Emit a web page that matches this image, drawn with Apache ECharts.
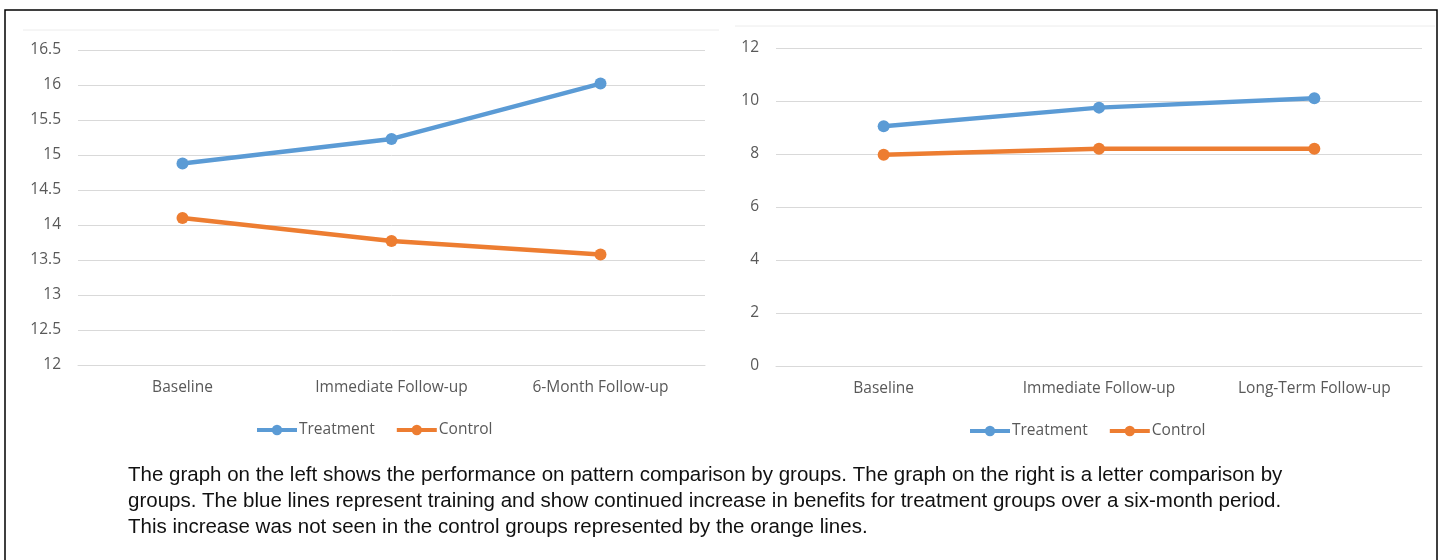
<!DOCTYPE html>
<html>
<head>
<meta charset="utf-8">
<title>Pattern and letter comparison by groups</title>
<script src="https://cdn.jsdelivr.net/npm/echarts@6/dist/echarts.min.js"></script>
<style>
  html, body { margin: 0; padding: 0; background: #fff; }
  #chart { width: 1443px; height: 560px; }
</style>
</head>
<body>
<div id="chart"></div>
<script>
// left chart: pattern comparison
var leftCategories = ['Baseline', 'Immediate Follow-up', '6-Month Follow-up'];
var leftTreatment = [14.88, 15.23, 16.02];
var leftControl = [14.1, 13.77, 13.58];

// right chart: letter comparison
var rightCategories = ['Baseline', 'Immediate Follow-up', 'Long-Term Follow-up'];
var rightTreatment = [9.05, 9.75, 10.1];
var rightControl = [7.97, 8.2, 8.2];

var captionLines = [
  'The graph on the left shows the performance on pattern comparison by groups. The graph on the right is a letter comparison by',
  'groups. The blue lines represent training and show continued increase in benefits for treatment groups over a six-month period.',
  'This increase was not seen in the control groups represented by the orange lines.'
];

var blue = '#5B9BD5';
var orange = '#ED7D31';
var labelFont = { color: '#595959', fontSize: 15.5, fontFamily: 'Open Sans' };

function xAxisFor(idx, cats) {
  return {
    type: 'category',
    gridIndex: idx,
    data: cats,
    boundaryGap: true,
    axisLine: { show: true, lineStyle: { color: '#d9d9d9', width: 1 } },
    axisTick: { show: false },
    axisLabel: Object.assign({ margin: 15 }, labelFont)
  };
}

function yAxisFor(idx, min, max, interval, margin) {
  return {
    type: 'value',
    gridIndex: idx,
    min: min,
    max: max,
    interval: interval,
    axisLine: { show: false },
    axisTick: { show: false },
    splitLine: { lineStyle: { color: '#d9d9d9', width: 1 } },
    axisLabel: Object.assign({ margin: margin }, labelFont)
  };
}

function lineSeries(name, color, xi, data) {
  return {
    name: name,
    type: 'line',
    xAxisIndex: xi,
    yAxisIndex: xi,
    data: data,
    symbol: 'circle',
    symbolSize: 12,
    lineStyle: { color: color, width: 4.5 },
    itemStyle: { color: color },
    animation: false
  };
}

function legendAt(left, top) {
  return {
    left: left,
    top: top,
    data: ['Treatment', 'Control'],
    itemWidth: 40,
    itemHeight: 13,
    itemGap: 20,
    lineStyle: { width: 4 },
    textStyle: Object.assign({ padding: [0, 0, 0, -3] }, labelFont)
  };
}

var myChart = echarts.init(document.getElementById('chart'));
myChart.setOption({
  backgroundColor: '#fff',
  animation: false,
  grid: [
    { left: 78, right: 738, top: 50, bottom: 195 },
    { left: 776, right: 21, top: 48, bottom: 194 }
  ],
  xAxis: [xAxisFor(0, leftCategories), xAxisFor(1, rightCategories)],
  yAxis: [yAxisFor(0, 12, 16.5, 0.5, 17), yAxisFor(1, 0, 12, 2, 17)],
  legend: [legendAt(250, 417), legendAt(963, 418)],
  series: [
    lineSeries('Treatment', blue, 0, leftTreatment),
    lineSeries('Control', orange, 0, leftControl),
    lineSeries('Treatment', blue, 1, rightTreatment),
    lineSeries('Control', orange, 1, rightControl)
  ],
  graphic: [
    // outer frame
    { type: 'rect', shape: { x: 5, y: 10, width: 1432, height: 580 },
      style: { fill: 'none', stroke: '#000', lineWidth: 1.5 }, silent: true },
    // faint chart area edges
    { type: 'line', shape: { x1: 23, y1: 30, x2: 719, y2: 30 },
      style: { stroke: '#ececec', lineWidth: 1 }, silent: true },
    { type: 'line', shape: { x1: 735, y1: 26, x2: 1435, y2: 26 },
      style: { stroke: '#ececec', lineWidth: 1 }, silent: true },
    {
      type: 'text',
      left: 128,
      top: 462,
      style: {
        text: captionLines.join('\n'),
        fill: '#111',
        font: '20.5px "Liberation Sans"',
        lineHeight: 26
      },
      silent: true
    }
  ]
});
</script>
</body>
</html>
